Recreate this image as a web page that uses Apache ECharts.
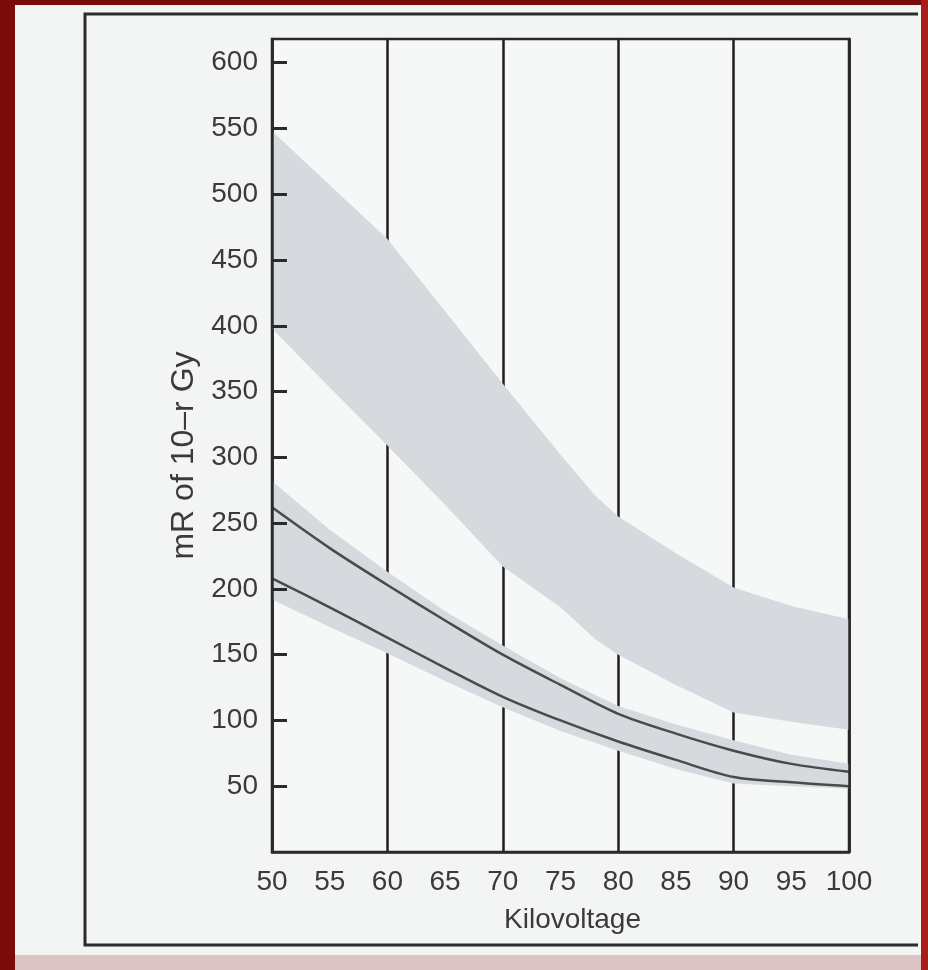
<!DOCTYPE html>
<html>
<head>
<meta charset="utf-8">
<script src="https://cdn.jsdelivr.net/npm/echarts@6/dist/echarts.min.js"></script>
<style>
html,body{margin:0;padding:0;background:#7a0b0b;}
#c{width:928px;height:970px;}
</style>
</head>
<body>
<div id="c"></div>
<script>
// ---- data ----
const kvTicks = [50, 55, 60, 65, 70, 75, 80, 85, 90, 95, 100];
const yTicks = [50, 100, 150, 200, 250, 300, 350, 400, 450, 500, 550, 600];

// wide (upper) shaded band
const kvWide     = [50, 55, 60, 65, 70, 75, 78, 80, 85, 90, 95, 100];
const wideTop    = [548, 507, 466, 411, 356, 302, 271, 255, 227, 201, 187, 177];
const wideBottom = [398, 353, 309, 264, 217, 186, 162, 150, 127, 106, 99, 93];

// narrow (lower) shaded band with two curves
const kvNarrow     = [50, 55, 60, 65, 70, 75, 80, 85, 90, 95, 100];
const narrowTop    = [282, 245, 213, 183, 157, 132, 111, 97, 85, 74, 67];
const narrowBottom = [192, 171, 151, 130, 110, 92, 77, 63, 52, 50, 48];
const upperCurve   = [262, 231, 203, 176, 150, 127, 105, 90, 77, 67, 61];
const lowerCurve   = [208, 186, 163, 140, 118, 100, 84, 70, 57, 53, 50];

const yName = 'mR of 10\u2013r Gy';
const xName = 'Kilovoltage';

// ---- chart ----
const FONT = '"Liberation Sans", Arial, Helvetica, sans-serif';
const TXT = '#3a3a3a';
const BAND = '#d6dade';

function pairs(xs, ys) { return xs.map((x, i) => [x, ys[i]]); }

function bandSeries(xs, top, bot, color) {
  return {
    type: 'custom',
    coordinateSystem: 'cartesian2d',
    clip: true,
    silent: true,
    z: 2,
    data: [[xs[0], bot[0]]],
    renderItem: function (params, api) {
      const pts = [];
      for (let i = 0; i < xs.length; i++) pts.push(api.coord([xs[i], top[i]]));
      for (let i = xs.length - 1; i >= 0; i--) pts.push(api.coord([xs[i], bot[i]]));
      return { type: 'polygon', shape: { points: pts }, style: { fill: color, stroke: null } };
    }
  };
}

function curveSeries(xs, ys) {
  return {
    type: 'line',
    data: pairs(xs, ys),
    smooth: 0.3,
    symbol: 'none',
    z: 3,
    silent: true,
    lineStyle: { color: '#4a4a4a', width: 2.5 }
  };
}

const chart = echarts.init(document.getElementById('c'), null, { renderer: 'canvas' });

chart.setOption({
  animation: false,
  backgroundColor: 'transparent',
  textStyle: { fontFamily: FONT },
  graphic: [
    { type: 'rect', z: -20, shape: { x: 0, y: 0, width: 928, height: 970 }, style: { fill: '#7a0b0b' } },
    { type: 'rect', z: -19, shape: { x: 15, y: 5, width: 906, height: 950 }, style: { fill: '#f3f4f4' } },
    { type: 'rect', z: -19, shape: { x: 15, y: 955, width: 913, height: 15 }, style: { fill: '#dcc4c4' } },
    { type: 'rect', z: -19, shape: { x: 921, y: 0, width: 7, height: 970 }, style: { fill: '#a81c1c' } },
    { type: 'polyline', z: -18, shape: { points: [[918, 14], [85, 14], [85, 945], [918, 945]] },
      style: { stroke: '#2b2b2b', lineWidth: 3, fill: null } }
  ],
  grid: {
    left: 272, right: 79, top: 39, bottom: 118,
    show: true, borderColor: '#2a2a2a', borderWidth: 2.5, backgroundColor: '#f6f7f7'
  },
  xAxis: {
    type: 'value', min: 50, max: 100, interval: 10,
    name: xName, nameLocation: 'middle', nameGap: 54,
    nameTextStyle: { fontSize: 28, color: TXT, fontFamily: FONT, padding: [0, 0, 0, 24] },
    axisLine: { show: true, lineStyle: { color: '#2a2a2a', width: 2.5 } },
    axisTick: { show: false },
    axisLabel: { customValues: kvTicks, fontSize: 28, color: TXT, margin: 16, fontFamily: FONT },
    splitLine: { show: true, lineStyle: { color: '#1f1f1f', width: 2.5 } }
  },
  yAxis: [
    {
      type: 'value', min: 0, max: 618, interval: 50, z: 10,
      name: yName, nameLocation: 'middle', nameGap: 62,
      nameTextStyle: { fontSize: 32, color: TXT, fontFamily: FONT, padding: [0, 20, 0, 0] },
      axisLine: { show: true, lineStyle: { color: '#2a2a2a', width: 2.5 } },
      axisTick: { show: true, inside: true, length: 15, customValues: yTicks, lineStyle: { color: '#2a2a2a', width: 3 } },
      axisLabel: { customValues: yTicks, fontSize: 28, color: TXT, margin: 14, fontFamily: FONT },
      splitLine: { show: false }
    },
    {
      type: 'value', min: 0, max: 618, interval: 50, z: 10, position: 'right',
      axisLine: { show: true, lineStyle: { color: '#2a2a2a', width: 2.5 } },
      axisTick: { show: false }, axisLabel: { show: false }, splitLine: { show: false }
    }
  ],
  series: [
    bandSeries(kvWide, wideTop, wideBottom, BAND),
    bandSeries(kvNarrow, narrowTop, narrowBottom, BAND),
    curveSeries(kvNarrow, upperCurve),
    curveSeries(kvNarrow, lowerCurve)
  ]
});
</script>
</body>
</html>
